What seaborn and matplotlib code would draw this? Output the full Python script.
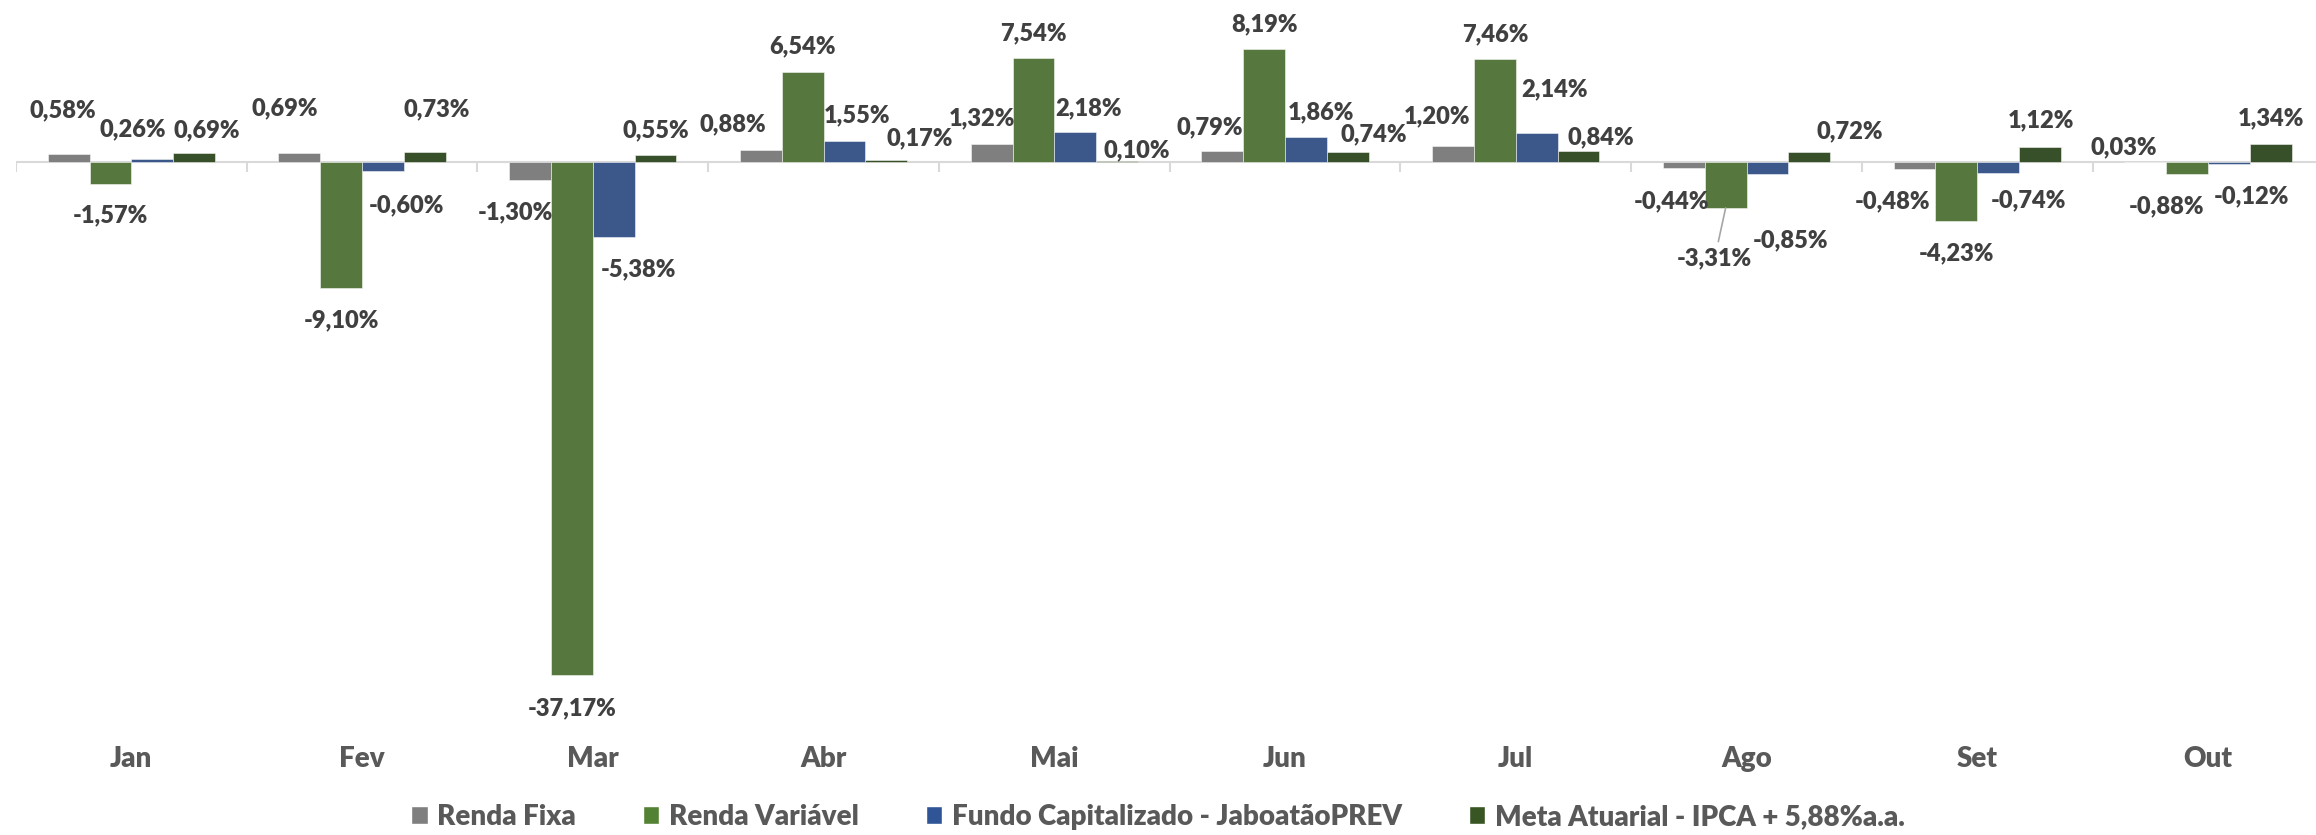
import numpy as np
import pandas as pd
import seaborn as sns
import matplotlib.pyplot as plt
from matplotlib.patches import Patch

sns.set_style('white')
plt.rcParams['font.family'] = ['Lato', 'DejaVu Sans']
plt.rcParams['font.weight'] = 800

# Data (% per month)
meses = ['Jan', 'Fev', 'Mar', 'Abr', 'Mai', 'Jun', 'Jul', 'Ago', 'Set', 'Out']
series = ['Renda Fixa', 'Renda Variável', 'Fundo Capitalizado - JaboatãoPREV',
          'Meta Atuarial - IPCA + 5,88%a.a.']
renda_fixa = [0.58, 0.69, -1.30, 0.88, 1.32, 0.79, 1.20, -0.44, -0.48, 0.03]
renda_variavel = [-1.57, -9.10, -37.17, 6.54, 7.54, 8.19, 7.46, -3.31, -4.23, -0.88]
fundo = [0.26, -0.60, -5.38, 1.55, 2.18, 1.86, 2.14, -0.85, -0.74, -0.12]
meta = [0.69, 0.73, 0.55, 0.17, 0.10, 0.74, 0.84, 0.72, 1.12, 1.34]

cores = ['#7F7F7F', '#548235', '#2F5597', '#375623']

# label nudges in pixels (dx, dy of label centre relative to bar end), one row per series
nudges = [
    [(-6, 46), (-15, 46), (-15, -30), (-28, 27), (-10, 27), (-13, 26), (-16, 31), (-12, -31), (-22, -31), (-22, 16)],
    [(0, -30), (0, -31), (0, -31), (0, 27), (0, 27), (0, 27), (0, 27), (-11, -49), (0, -31), (-21, -30)],
    [(-20, 31), (23, -33), (25, -31), (13, 27), (13, 26), (15, 26), (18, 45), (23, -65), (30, -26), (22, -31)],
    [(13, 24), (12, 45), (0, 26), (33, 23), (20, 12), (26, 19), (22, 15), (40, 23), (1, 28), (0, 27)],
]

valores = [renda_fixa, renda_variavel, fundo, meta]
df = pd.DataFrame({
    'mes': np.repeat([meses], 4, axis=0).ravel(),
    'serie': np.repeat(series, len(meses)),
    'valor': np.concatenate(valores),
})

W, H = 2316, 835
zero_px, px_per_pct = 162.3, 13.8
fig = plt.figure(figsize=(W / 100, H / 100), dpi=100)
ax = fig.add_axes([16 / W, 0, 2307.4 / W, 1])

sns.barplot(data=df, x='mes', y='valor', hue='serie', hue_order=series,
            palette=cores, width=0.725, errorbar=None, legend=False,
            edgecolor=(1, 1, 1, 0.5), linewidth=0.7, ax=ax)

ax.set_xlim(-0.5, len(meses) - 0.5)
ax.set_ylim(-(H - zero_px) / px_per_pct, zero_px / px_per_pct)
ax.axis('off')

# zero line + category boundary ticks
ax.axhline(0, color='#D9D9D9', lw=1.5, zorder=0)
ax.vlines(np.arange(len(meses) + 1) - 0.5, 0, -10 / px_per_pct, color='#D9D9D9', lw=1.5)

# month labels
for i, m in enumerate(meses):
    ax.text(i, 1 - 767 / H, m, transform=ax.get_xaxis_transform(), ha='center',
            va='baseline', fontsize=20, color='#595959', fontweight=800)

# data labels
cap = 8.6
for k, cont in enumerate(ax.containers):
    for i, bar in enumerate(cont):
        v = valores[k][i]
        dx, dy = nudges[k][i]
        txt = f'{v:.2f}'.replace('.', ',') + '%'
        xc = bar.get_x() + bar.get_width() / 2
        kw = {}
        if k == 1 and i == 7:
            kw['arrowprops'] = dict(arrowstyle='-', color='#A6A6A6', lw=1.2,
                                    shrinkA=2, shrinkB=0)
        ax.annotate(txt, xy=(xc, v), xytext=(dx, dy - cap), textcoords='offset pixels',
                    ha='center', va='baseline', fontsize=17, color='#404040',
                    fontweight=800, **kw)

handles = [Patch(facecolor=c) for c in cores]
fig.legend(handles, series, loc='center', bbox_to_anchor=(0.5, 1 - 817 / H), ncol=4,
           frameon=False, handlelength=0.6, handleheight=0.6,
           handletextpad=0.35, columnspacing=2.4, labelcolor='#595959',
           prop={'weight': 800, 'size': 20})

fig.savefig('out.png', dpi=100)
